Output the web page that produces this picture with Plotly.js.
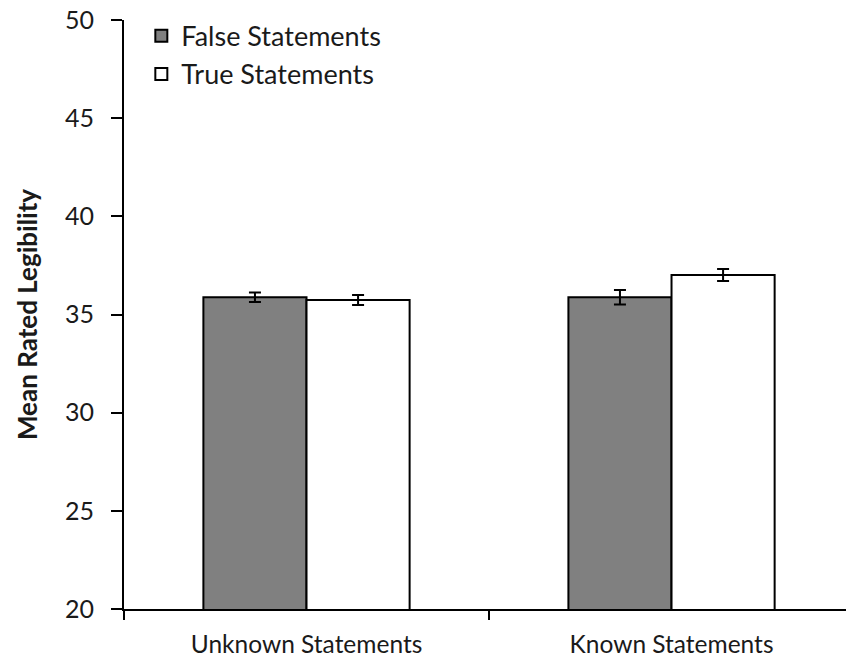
<!DOCTYPE html>
<html>
<head>
<meta charset="utf-8">
<script src="https://cdn.plot.ly/plotly-3.0.1.min.js"></script>
<style>html,body{margin:0;padding:0;background:#fff;}#chart{width:846px;height:665px;}</style>
</head>
<body>
<div id="chart"></div>
<script>
const categories = ["Unknown Statements", "Known Statements"];
const falseValues = [35.88, 35.88];
const falseErrors = [0.24, 0.37];
const trueValues = [35.74, 37.01];
const trueErrors = [0.25, 0.31];
const seriesNames = ["False Statements", "True Statements"];

const fontFam = "Lato, 'Open Sans', sans-serif";
const errStyle = {type: "data", visible: true, color: "#000", thickness: 2, width: 6};

const traces = [
  {type: "bar", x: categories, y: falseValues, name: seriesNames[0],
   marker: {color: "#808080", line: {color: "#000", width: 2}},
   error_y: Object.assign({array: falseErrors}, errStyle)},
  {type: "bar", x: categories, y: trueValues, name: seriesNames[1],
   marker: {color: "#ffffff", line: {color: "#000", width: 2}},
   error_y: Object.assign({array: trueErrors}, errStyle)}
];

const layout = {
  width: 846, height: 665,
  margin: {l: 124, r: 0, t: 20, b: 56},
  paper_bgcolor: "#fff", plot_bgcolor: "#fff",
  barmode: "group", bargap: 0.435, bargroupgap: 0,
  font: {family: fontFam, color: "#1a1a1a", size: 24},
  showlegend: true,
  legend: {x: 0.024, y: 1.014, xanchor: "left", yanchor: "top", bgcolor: "rgba(0,0,0,0)",
           font: {size: 27, family: fontFam}, tracegroupgap: 0, itemwidth: 30, traceorder: "normal"},
  xaxis: {range: [-0.5, 1.478], showline: true, linecolor: "#000", linewidth: 2,
          ticks: "outside", tickson: "boundaries", ticklen: 9, tickwidth: 2, tickcolor: "#000",
          showgrid: false, zeroline: false, tickfont: {size: 24.5}, ticklabelstandoff: 13},
  yaxis: {range: [20, 50], dtick: 5, showline: true, linecolor: "#000", linewidth: 2,
          ticks: "outside", ticklen: 11, tickwidth: 2, tickcolor: "#000",
          showgrid: false, zeroline: false, tickfont: {size: 25}, ticklabelstandoff: 12,
          title: {text: "<b>Mean Rated Legibility</b>", font: {size: 26}, standoff: 20}}
};

Plotly.newPlot("chart", traces, layout, {displayModeBar: false, staticPlot: true});
</script>
</body>
</html>
